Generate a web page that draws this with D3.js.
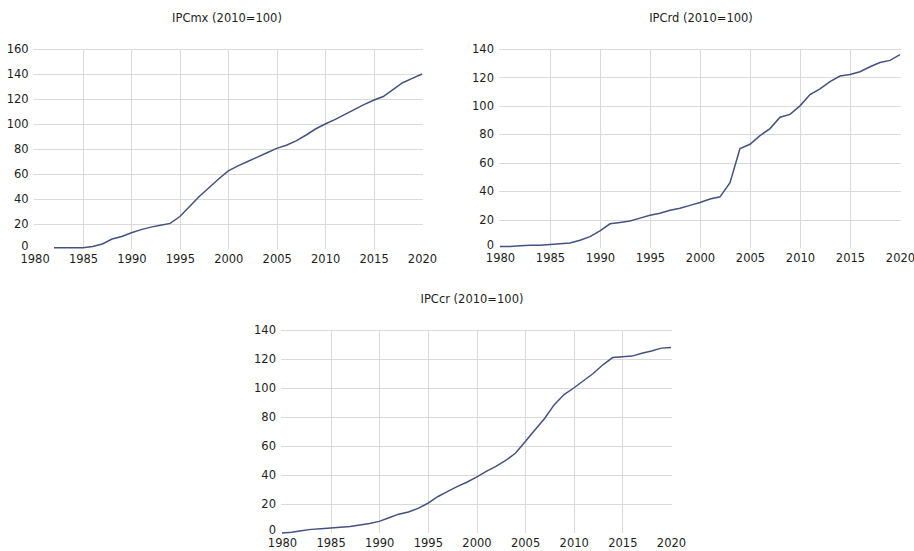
<!DOCTYPE html>
<html>
<head>
<meta charset="utf-8">
<script src="https://cdn.jsdelivr.net/npm/d3@7"></script>
<style>
  body { margin: 0; background: #fff; }
  svg text { font-family: "DejaVu Sans", sans-serif; fill: #1e1e1e; }
  .grid line { stroke: #dadada; stroke-width: 1; }
  .series { fill: none; stroke: #44527f; stroke-width: 1.5; }
</style>
</head>
<body>
<svg id="chart" width="914" height="551"></svg>
<script>
// years on the x axis, one point per year
var yearsMx = d3.range(1982, 2021);
var yearsAll = d3.range(1980, 2021);

// IPCmx (2010=100), 1982-2020
var ipcMx = [1, 1, 1, 1, 2, 4, 8, 10, 13, 15.5, 17.5, 19, 20.5, 26, 34, 42, 49, 56, 62.5,
  66.5, 70, 73.5, 77, 80.5, 83, 86.5, 91, 96, 100, 103.5, 107.5, 111.5, 115.5, 119,
  122, 127.5, 133, 136.5, 140];

// IPCrd (2010=100), 1980-2020
var ipcRd = [1, 1, 1.5, 2, 2, 2.5, 3, 3.5, 5.5, 8, 12, 17, 18, 19, 21, 23, 24.5, 26.5, 28,
  30, 32, 34.5, 36, 46, 70, 73, 79, 84, 92, 94, 100, 108, 112, 117, 121, 122, 124,
  127.5, 130.5, 132, 136];

// IPCcr (2010=100), 1980-2020
var ipcCr = [0, 0.5, 1.5, 2.5, 3, 3.5, 4, 4.5, 5.5, 6.5, 8, 10.5, 13, 14.5, 17, 20.5, 25,
  28.5, 32, 35, 38.5, 42.5, 46, 50, 55, 63, 71, 79, 88.5, 95.5, 100, 105, 110, 116,
  121, 121.5, 122, 124, 125.5, 127.5, 128];

var titles = ["IPCmx (2010=100)", "IPCrd (2010=100)", "IPCcr (2010=100)"];
var xTicks = d3.range(1980, 2021, 5);
var xGridTicks = d3.range(1985, 2020, 5);

var svg = d3.select("#chart");

function drawPanel(cfg) {
  var g = svg.append("g");

  var x = d3.scaleLinear().domain([1980, 2020]).range([cfg.x0, cfg.x1]);
  var y = d3.scaleLinear().domain([0, cfg.ymax]).range([cfg.y0, cfg.y1]);
  var yTicks = d3.range(0, cfg.ymax + 1, 20);

  // horizontal gridlines
  g.append("g").attr("class", "grid")
    .selectAll("line").data(yTicks.slice(1)).enter().append("line")
    .attr("x1", cfg.x0 - 1).attr("x2", cfg.x1 + 1)
    .attr("y1", function(d){ return Math.round(y(d)) + 0.5; })
    .attr("y2", function(d){ return Math.round(y(d)) + 0.5; });

  // vertical gridlines
  g.append("g").attr("class", "grid")
    .selectAll("line").data(xGridTicks).enter().append("line")
    .attr("x1", function(d){ return Math.round(x(d)) + 0.5; })
    .attr("x2", function(d){ return Math.round(x(d)) + 0.5; })
    .attr("y1", y(cfg.ymax)).attr("y2", cfg.y0);

  // axes, text only
  var xAxis = d3.axisBottom(x).tickValues(xTicks).tickFormat(d3.format("d")).tickSize(0).tickPadding(6);
  var gx = g.append("g").attr("transform", "translate(0," + cfg.y0 + ")").call(xAxis);
  gx.select(".domain").remove();
  gx.selectAll("text").style("font-size", "11.5px").attr("fill", null);

  var yAxis = d3.axisLeft(y).tickValues(yTicks).tickSize(0).tickPadding(6);
  var gy = g.append("g").attr("transform", "translate(" + cfg.x0 + ",0)").call(yAxis);
  gy.select(".domain").remove();
  gy.selectAll("text").style("font-size", "11.5px").attr("fill", null)
    .attr("dy", function(d){ return d === 0 ? "0.05em" : "0.32em"; });

  var line = d3.line()
    .x(function(d){ return x(d[0]); })
    .y(function(d){ return y(d[1]); });

  g.append("path").attr("class", "series")
    .datum(d3.zip(cfg.years, cfg.values))
    .attr("d", line);

  g.append("text")
    .attr("x", cfg.tx).attr("y", cfg.ty)
    .attr("text-anchor", "middle")
    .style("font-size", "11.5px")
    .text(cfg.title);
}

drawPanel({ years: yearsMx, values: ipcMx, title: titles[0], ymax: 160,
  x0: 34.6, x1: 422, y0: 249, y1: 49, tx: 227, ty: 22 });

drawPanel({ years: yearsAll, values: ipcRd, title: titles[1], ymax: 140,
  x0: 500, x1: 900, y0: 248, y1: 49, tx: 701, ty: 22 });

drawPanel({ years: yearsAll, values: ipcCr, title: titles[2], ymax: 140,
  x0: 282, x1: 671, y0: 533, y1: 330, tx: 472, ty: 303 });
</script>
</body>
</html>
